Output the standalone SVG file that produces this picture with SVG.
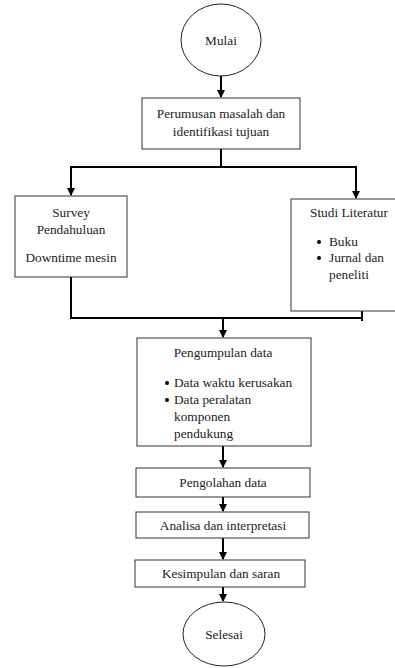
<svg xmlns="http://www.w3.org/2000/svg" width="395" height="668" viewBox="0 0 395 668" font-family="Liberation Serif, Times New Roman, serif">
<style>
.box{fill:#fff;stroke:#333;stroke-width:1}
text{font-family:"Liberation Serif",serif;font-size:13.3px;fill:#222}
.c{text-anchor:middle}
.ln{fill:none;stroke:#000;stroke-width:2}
</style>
<defs>
<marker id="ah" markerWidth="8" markerHeight="8" refX="7" refY="4" orient="auto" markerUnits="userSpaceOnUse">
<path d="M0,0 L8,4 L0,8 Z" fill="#000"/>
</marker>
</defs>
<rect width="395" height="668" fill="#fff"/>
<g id="connectors">
<line class="ln" x1="221" y1="76" x2="221" y2="97" marker-end="url(#ah)"/>
<polyline class="ln" points="221,149 221,167"/>
<polyline class="ln" points="70,167 357,167"/>
<line class="ln" x1="71" y1="167" x2="71" y2="195" marker-end="url(#ah)"/>
<line class="ln" x1="356" y1="167" x2="356" y2="198" marker-end="url(#ah)"/>
<polyline class="ln" points="71,277 71,318 362,318"/>
<line class="ln" x1="362" y1="311" x2="362" y2="321"/>
<line class="ln" x1="223" y1="318" x2="223" y2="337" marker-end="url(#ah)"/>
<line class="ln" x1="223" y1="446" x2="223" y2="467" marker-end="url(#ah)"/>
<line class="ln" x1="223" y1="497" x2="223" y2="511" marker-end="url(#ah)"/>
<line class="ln" x1="223" y1="538" x2="223" y2="559" marker-end="url(#ah)"/>
<line class="ln" x1="223" y1="587" x2="223" y2="601" marker-end="url(#ah)"/>
</g>
<g id="mulai">
<ellipse cx="221" cy="40" rx="40" ry="36" fill="#fff" stroke="#222" stroke-width="1"/>
<text class="c" x="221" y="45" font-family="Liberation Serif">Mulai</text>
</g>
<g id="perumusan">
<rect class="box" x="142" y="98" width="158" height="51"/>
<text class="c" x="221" y="118">Perumusan masalah dan</text>
<text class="c" x="221" y="136">identifikasi tujuan</text>
</g>
<g id="survey">
<rect class="box" x="15" y="196" width="112" height="81"/>
<text class="c" x="71" y="217">Survey</text>
<text class="c" x="71" y="234">Pendahuluan</text>
<text class="c" x="71" y="262">Downtime mesin</text>
</g>
<g id="studi">
<rect class="box" x="291" y="199" width="112" height="112"/>
<text x="310" y="217">Studi Literatur</text>
<circle cx="319" cy="242" r="2" fill="#000"/>
<text x="329" y="246">Buku</text>
<circle cx="319" cy="258" r="2" fill="#000"/>
<text x="329" y="262">Jurnal dan</text>
<text x="329" y="279">peneliti</text>
</g>
<g id="pengumpulan">
<rect class="box" x="137" y="338" width="174" height="108"/>
<text class="c" x="223" y="357">Pengumpulan data</text>
<circle cx="167" cy="383" r="2" fill="#000"/>
<text x="174" y="387">Data waktu kerusakan</text>
<circle cx="167" cy="400" r="2" fill="#000"/>
<text x="174" y="404">Data peralatan</text>
<text x="174" y="421">komponen</text>
<text x="174" y="438">pendukung</text>
</g>
<g id="pengolahan">
<rect class="box" x="136" y="468" width="174" height="29"/>
<text class="c" x="223" y="487">Pengolahan data</text>
</g>
<g id="analisa">
<rect class="box" x="136" y="512" width="173" height="26"/>
<text class="c" x="223" y="530">Analisa dan interpretasi</text>
</g>
<g id="kesimpulan">
<rect class="box" x="135" y="560" width="170" height="27"/>
<text class="c" x="221" y="578">Kesimpulan dan saran</text>
</g>
<g id="selesai">
<ellipse cx="224" cy="634" rx="41" ry="32" fill="#fff" stroke="#222" stroke-width="1"/>
<text class="c" x="224" y="639">Selesai</text>
</g>
</svg>
